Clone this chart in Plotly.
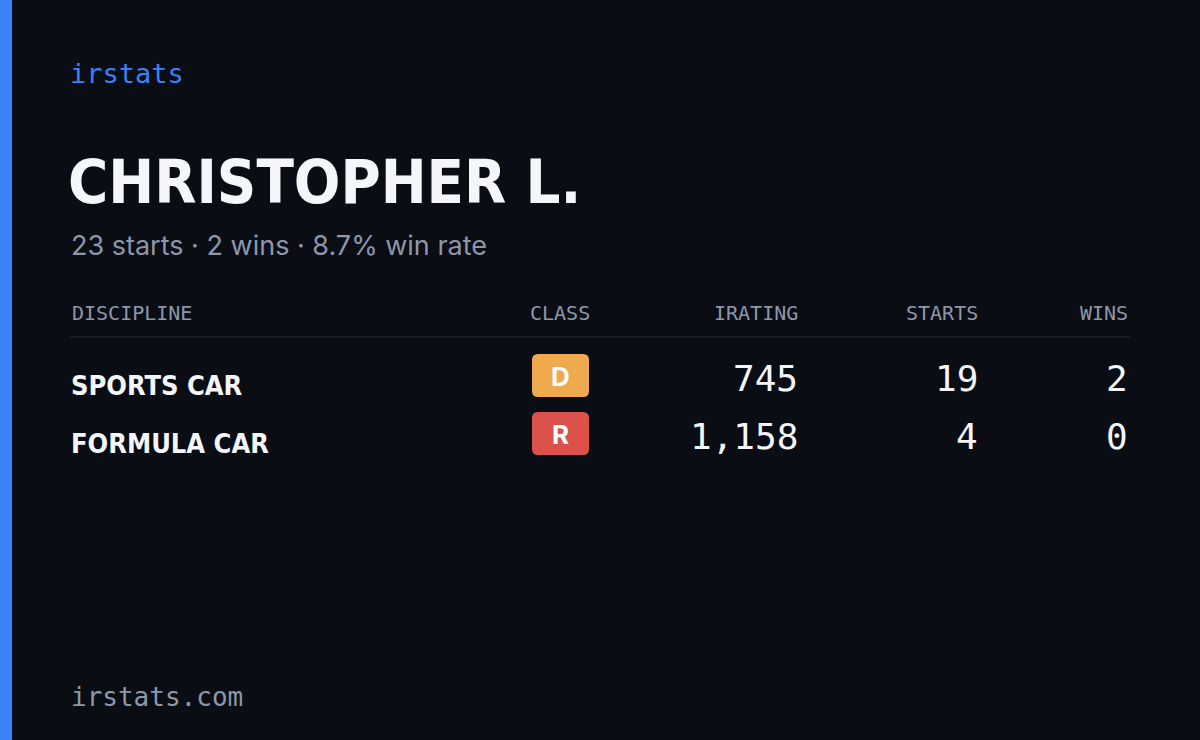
import plotly.graph_objects as go

driver = "CHRISTOPHER L."
summary = "23 starts · 2 wins · 8.7% win rate"
columns = ["DISCIPLINE", "CLASS", "IRATING", "STARTS", "WINS"]
disciplines = ["SPORTS CAR", "FORMULA CAR"]
classes = ["D", "R"]
class_colors = ["#eeaa4c", "#dc524b"]
iratings = [745, 1158]
starts = [19, 4]
wins = [2, 0]

BG = "#0a0d14"
GRAY = "#8d97aa"
MONO = "DejaVu Sans Mono"
COND = "DejaVu Sans Condensed"

fig = go.Figure()
shapes = [dict(type="rect", x0=0, x1=12, y0=0, y1=740, fillcolor="#3b82f6", line_width=0, layer="below"),
          dict(type="line", x0=70, x1=1130, y0=337, y1=337, line=dict(color="#1c212c", width=1.5))]
ann = []


def text(x, y, s, size, color, font, xanchor="left", bold=False):
    ann.append(dict(x=x, y=y, text=f"<b>{s}</b>" if bold else s, showarrow=False, xanchor=xanchor,
                    yanchor="middle", font=dict(size=size, color=color, family=font)))


text(68, 73, "irstats", 27, "#3b82f6", MONO)
text(66, 181, driver, 61, "#f4f6fa", COND, bold=True)
text(69, 245, summary, 27, GRAY, "Inter")
text(69, 697, "irstats.com", 26, GRAY, MONO)

col_x = [70, 560, 800, 980, 1130]
col_anchor = ["left", "center", "right", "right", "right"]
for c, x, a in zip(columns, col_x, col_anchor):
    text(x, 313, c, 20, GRAY, MONO, a)

row_y = [378, 436]
for i, y in enumerate(row_y):
    text(69, y + 7, disciplines[i], 27, "#f4f6fa", COND, bold=True)
    x0, x1, y0, y1, r = 532, 589, y - 24, y + 19, 6
    path = (f"M{x0+r},{y0} L{x1-r},{y0} Q{x1},{y0} {x1},{y0+r} L{x1},{y1-r} Q{x1},{y1} {x1-r},{y1} "
            f"L{x0+r},{y1} Q{x0},{y1} {x0},{y1-r} L{x0},{y0+r} Q{x0},{y0} {x0+r},{y0} Z")
    shapes.append(dict(type="path", path=path, fillcolor=class_colors[i], line_width=0))
    text(560, y - 2, classes[i], 26, "#ffffff", "Inter", "center", bold=True)
    text(800, y, f"{iratings[i]:,}", 36, "#f4f6fa", MONO, "right")
    text(980, y, str(starts[i]), 36, "#f4f6fa", MONO, "right")
    text(1130, y, str(wins[i]), 36, "#f4f6fa", MONO, "right")

fig.update_layout(width=1200, height=740, margin=dict(l=0, r=0, t=0, b=0),
                  paper_bgcolor=BG, plot_bgcolor=BG, shapes=shapes, annotations=ann, showlegend=False,
                  xaxis=dict(range=[0, 1200], visible=False, fixedrange=True),
                  yaxis=dict(range=[740, 0], visible=False, fixedrange=True))
fig.write_html("out.html", config={"displayModeBar": False},
               post_script="document.body.style.margin='0';document.body.style.background='%s';" % BG)
